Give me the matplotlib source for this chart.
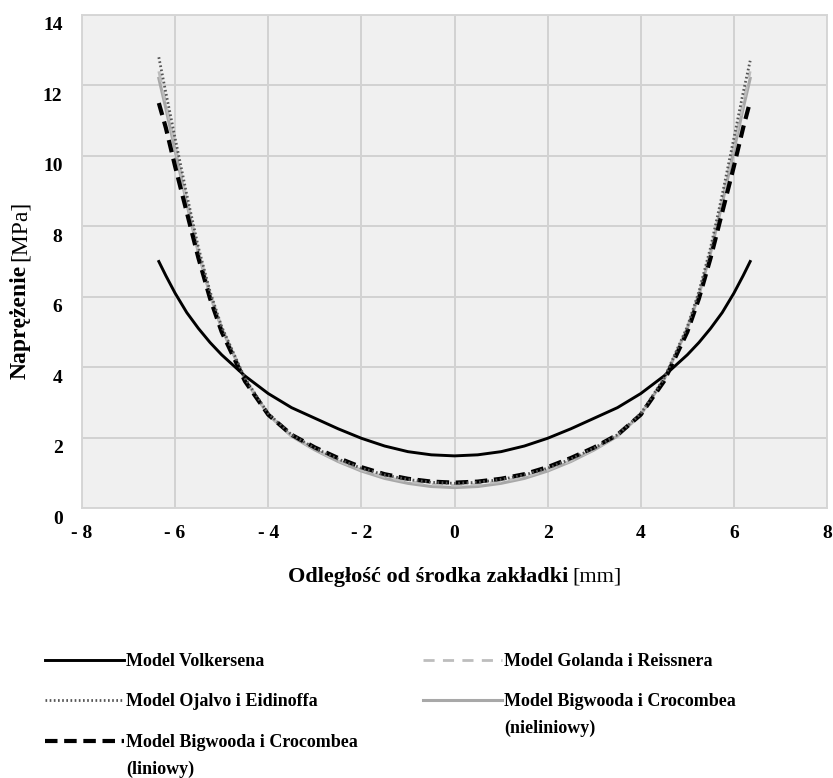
import matplotlib
matplotlib.use('Agg')
import matplotlib.pyplot as plt
import matplotlib.transforms as mtransforms

plt.rcParams['font.family'] = ['Liberation Serif', 'DejaVu Serif']

# odleglosc od srodka zakladki [mm]
x = [-6.35, -6.2, -6.0, -5.75, -5.5, -5.25, -5.0, -4.5, -4.0, -3.5, -3.0, -2.5, -2.0, -1.5, -1.0, -0.5,
     0.0, 0.5, 1.0, 1.5, 2.0, 2.5, 3.0, 3.5, 4.0, 4.5, 5.0, 5.25, 5.5, 5.75, 6.0, 6.2, 6.35]

# naprezenie [MPa]
volkersen = [7.0, 6.6, 6.1, 5.55, 5.1, 4.7, 4.35, 3.75, 3.25, 2.85, 2.55, 2.25, 1.98, 1.76, 1.6, 1.51,
             1.48, 1.51, 1.6, 1.76, 1.98, 2.25, 2.55, 2.85, 3.25, 3.75, 4.35, 4.7, 5.1, 5.55, 6.1, 6.6, 7.0]
ojalvo = [12.8, 11.8, 10.5, 8.9, 7.4, 6.15, 5.15, 3.68, 2.68, 2.08, 1.7, 1.39, 1.13, 0.94, 0.81, 0.73,
          0.70, 0.73, 0.81, 0.94, 1.13, 1.39, 1.7, 2.08, 2.68, 3.68, 5.15, 6.15, 7.4, 8.9, 10.5, 11.8, 12.7]
golanda = [12.4, 11.5, 10.3, 8.75, 7.3, 6.1, 5.12, 3.66, 2.66, 2.05, 1.66, 1.34, 1.08, 0.88, 0.75, 0.67,
           0.64, 0.67, 0.75, 0.88, 1.08, 1.34, 1.66, 2.05, 2.66, 3.66, 5.12, 6.1, 7.3, 8.75, 10.3, 11.5, 12.4]
bigwood_lin = [11.5, 10.8, 9.7, 8.4, 7.1, 5.95, 5.0, 3.6, 2.65, 2.08, 1.72, 1.42, 1.16, 0.96, 0.83, 0.75,
               0.72, 0.75, 0.83, 0.96, 1.16, 1.42, 1.72, 2.08, 2.65, 3.6, 5.0, 5.95, 7.1, 8.4, 9.7, 10.8, 11.55]
bigwood_nlin = [12.2, 11.35, 10.15, 8.65, 7.25, 6.05, 5.1, 3.65, 2.65, 2.04, 1.65, 1.32, 1.05, 0.84, 0.7, 0.61,
                0.58, 0.61, 0.7, 0.84, 1.05, 1.32, 1.65, 2.04, 2.65, 3.65, 5.1, 6.05, 7.25, 8.65, 10.15, 11.35, 12.2]

xticks = [-8, -6, -4, -2, 0, 2, 4, 6, 8]
xticklabels = ['- 8', '- 6', '- 4', '- 2', '0', '2', '4', '6', '8']
yticks = [0, 2, 4, 6, 8, 10, 12, 14]

W, H = 833, 778
fig = plt.figure(figsize=(W / 100, H / 100), dpi=100)
ax = fig.add_axes([82 / W, 1 - 508 / H, (827 - 82) / W, (508 - 15) / H])
ax.set_facecolor('#f0f0f0')

l1, = ax.plot(x, volkersen, color='black', lw=2.1, zorder=5)
l5, = ax.plot(x, bigwood_nlin, color='#a8a8a8', lw=2.2, zorder=2)
l4, = ax.plot(x, golanda, color='#bdbdbd', lw=2.0, ls=(0, (4, 3)), zorder=3)
l3, = ax.plot(x, bigwood_lin, color='black', lw=3.0, ls=(0, (3, 1.6)), zorder=4)
l2, = ax.plot(x, ojalvo, color='#555555', lw=2.0, ls=(0, (0.6, 0.9)), zorder=6)

ax.set_xlim(-8, 8)
ax.set_ylim(0, 14)
ax.set_xticks(xticks)
ax.set_xticklabels(xticklabels)
ax.set_yticks(yticks)
ax.grid(True, color='#d2d2d2', lw=1.4)
ax.set_axisbelow(True)
ax.tick_params(length=0, labelsize=14, pad=12)
ax.tick_params(axis='y', pad=14)
ylab_shift = mtransforms.ScaledTranslation(0, -9 / 100, fig.dpi_scale_trans)
for lab in ax.get_yticklabels():
    lab.set_transform(lab.get_transform() + ylab_shift)
for lab in ax.get_xticklabels() + ax.get_yticklabels():
    lab.set_fontweight('bold')
for s in ax.spines.values():
    s.set_color('#d6d6d6')
    s.set_linewidth(1.4)

# etykiety osi: czesc pogrubiona + jednostka zwykla czcionka
renderer = fig.canvas.get_renderer()
gap = 4
tx1 = fig.text(0, 1 - 577 / H, 'Odległość od środka zakładki', ha='left', va='center',
               fontsize=16, fontweight='bold')
tx2 = fig.text(0, 1 - 577 / H, '[mm]', ha='left', va='center', fontsize=16)
w1 = tx1.get_window_extent(renderer).width
w2 = tx2.get_window_extent(renderer).width
x0 = 455 - (w1 + gap + w2) / 2
tx1.set_x(x0 / W)
tx2.set_x((x0 + w1 + gap) / W)

ty1 = fig.text(20 / W, 0, 'Naprężenie', rotation=90, ha='center', va='bottom',
               fontsize=17, fontweight='bold')
ty2 = fig.text(20 / W, 0, '[MPa]', rotation=90, ha='center', va='bottom', fontsize=17)
h1 = ty1.get_window_extent(renderer).height
h2 = ty2.get_window_extent(renderer).height
y0 = (H - 290) - (h1 + gap + h2) / 2
ty1.set_y(y0 / H)
ty2.set_y((y0 + h1 + gap) / H)

# legenda: uchwyt przy pierwszej linii opisu, druga linia dopisana osobno
handles = [l1, l2, l3, l4, l5]
labels = ['Model Volkersena', 'Model Ojalvo i Eidinoffa', 'Model Bigwooda i Crocombea',
          'Model Golanda i Reissnera', 'Model Bigwooda i Crocombea']
second_lines = {2: '(liniowy)', 4: '(nieliniowy)'}
leg = fig.legend(handles, labels, loc='upper left', bbox_to_anchor=(45 / W, 1 - 653 / H),
                 ncol=2, frameon=False, borderpad=0, borderaxespad=0, handlelength=4.4,
                 handletextpad=0.1, columnspacing=3.6, labelspacing=1.3,
                 prop={'weight': 'bold', 'size': 13})
fig.canvas.draw()
for i, txt in enumerate(leg.get_texts()):
    if i in second_lines:
        bb = txt.get_window_extent(renderer)
        fig.text(bb.x0 / W, (bb.y0 - 27) / H, second_lines[i], ha='left', va='bottom',
                 fontsize=13, fontweight='bold')

fig.savefig('out.png', dpi=100)
